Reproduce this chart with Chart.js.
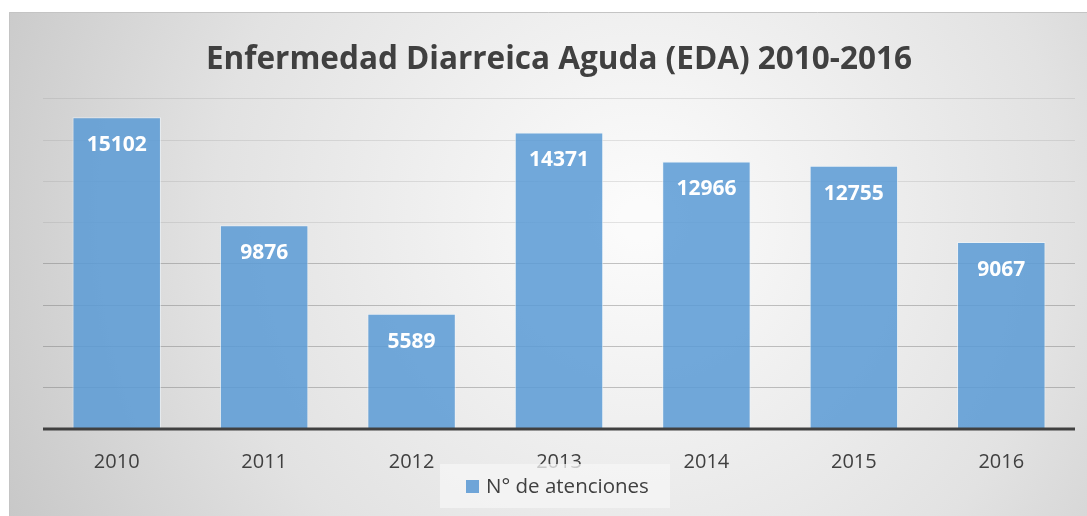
<!DOCTYPE html>
<html>
<head>
<meta charset="utf-8">
<script src="https://cdn.jsdelivr.net/npm/chart.js@4/dist/chart.umd.min.js"></script>
<style>
  html, body { margin: 0; padding: 0; background: #fff; }
  #wrap { width: 1087px; height: 516px; }
</style>
</head>
<body>
<div id="wrap"><canvas id="edaChart"></canvas></div>
<script>
// data
const years = ["2010", "2011", "2012", "2013", "2014", "2015", "2016"];
const atenciones = [15102, 9876, 5589, 14371, 12966, 12755, 9067];
const seriesName = "N° de atenciones";
const chartTitle = "Enfermedad Diarreica Aguda (EDA) 2010-2016";

const FONT = "'Open Sans', 'DejaVu Sans', sans-serif";
const TEXT = "#404040";

// background panel with soft radial gradient
const panelBg = {
  id: "panelBg",
  beforeDraw(chart) {
    const c = chart.ctx;
    const w = chart.width, h = chart.height;
    c.save();
    const g = c.createRadialGradient(640, 220, 20, 640, 220, 760);
    g.addColorStop(0, "#fbfbfb");
    g.addColorStop(0.55, "#e2e2e2");
    g.addColorStop(1, "#c2c2c2");
    c.fillStyle = g;
    c.fillRect(9, 12, w - 9, h - 12);
    c.strokeStyle = "#c4c4c4";
    c.lineWidth = 1;
    c.beginPath();
    c.moveTo(9.5, h);
    c.lineTo(9.5, 12.5);
    c.lineTo(w, 12.5);
    c.stroke();
    c.restore();
  }
};

// value labels inside bars + legend box
const barLabels = {
  id: "barLabels",
  afterDatasetsDraw(chart) {
    const c = chart.ctx;
    const meta = chart.getDatasetMeta(0);
    c.save();
    c.fillStyle = "#ffffff";
    c.font = "bold 21px " + FONT;
    c.textAlign = "center";
    c.textBaseline = "middle";
    meta.data.forEach((bar, i) => {
      c.fillText(String(chart.data.datasets[0].data[i]), bar.x, bar.y + 28);
    });
    // axis base line
    const a = chart.chartArea;
    c.strokeStyle = "#404040";
    c.lineWidth = 3;
    c.beginPath();
    c.moveTo(a.left, a.bottom);
    c.lineTo(a.right, a.bottom);
    c.stroke();
    c.restore();
  },
  afterDraw(chart) {
    const c = chart.ctx;
    const ds = chart.data.datasets[0];
    c.save();
    c.fillStyle = "rgba(245,245,245,0.75)";
    c.fillRect(440, 464, 230, 44);
    c.fillStyle = "#6fa5d8";
    c.fillRect(466, 480, 13, 13);
    c.fillStyle = TEXT;
    c.font = "20.5px " + FONT;
    c.textAlign = "left";
    c.textBaseline = "middle";
    c.fillText(ds.label, 486, 487);
    c.restore();
  }
};

new Chart(document.getElementById("edaChart"), {
  type: "bar",
  data: {
    labels: years,
    datasets: [{
      label: seriesName,
      data: atenciones,
      backgroundColor: "rgba(91,155,213,0.86)",
      borderColor: "rgba(235,243,250,0.7)",
      borderWidth: 1,
      categoryPercentage: 1,
      barPercentage: 0.6
    }]
  },
  options: {
    responsive: true,
    maintainAspectRatio: false,
    animation: false,
    layout: { padding: { top: 12, left: 43, right: 12, bottom: 0 } },
    plugins: {
      legend: { display: false },
      tooltip: { enabled: false },
      title: {
        display: true,
        text: chartTitle,
        color: TEXT,
        font: { family: FONT, size: 31.5, weight: "bold" },
        padding: { top: 29, bottom: 20 }
      }
    },
    scales: {
      y: {
        min: 0,
        max: 16000,
        ticks: { display: false, stepSize: 2000 },
        border: { display: false },
        grid: {
          drawTicks: false,
          color: ctx => ctx.tick && ctx.tick.value >= 10000 ? "rgba(150,150,150,0.25)" : "rgba(110,110,110,0.4)"
        }
      },
      x: {
        border: { display: false },
        grid: { display: false, drawTicks: false },
        ticks: {
          color: TEXT,
          padding: 21,
          font: { family: FONT, size: 20 }
        },
        afterFit(scale) { scale.height = 87; }
      }
    }
  },
  plugins: [panelBg, barLabels]
});
</script>
</body>
</html>
